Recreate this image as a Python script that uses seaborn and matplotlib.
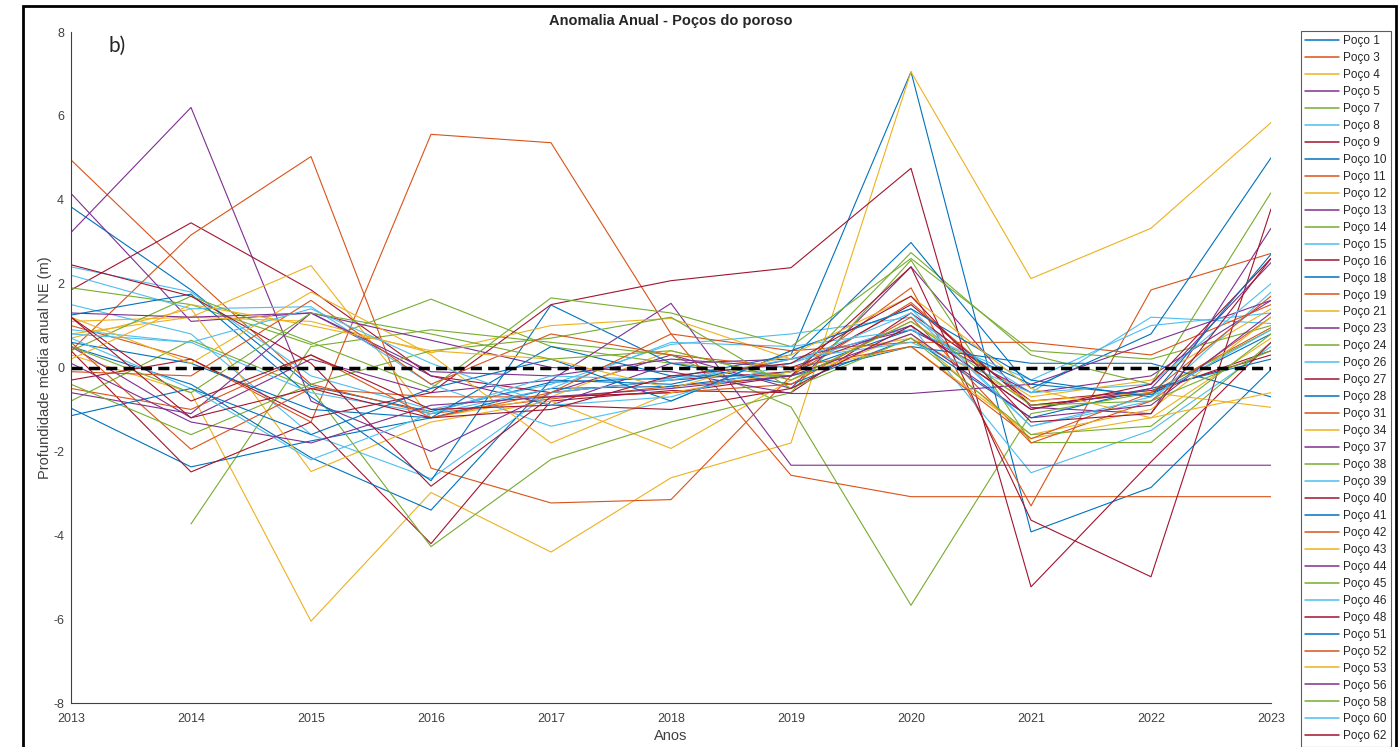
import numpy as np
import pandas as pd
import matplotlib
matplotlib.use("Agg")
import matplotlib.pyplot as plt
from matplotlib.patches import Rectangle
import seaborn as sns

sns.set_style("white")
plt.rcParams['font.family'] = ['Liberation Sans', 'DejaVu Sans']
plt.rcParams['axes.unicode_minus'] = False

years = list(range(2013, 2024))

# anomalia anual por poço (m), 2013..2023
p01 = [3.83, 1.85, -0.45, -1.05, -0.35, -0.25, 0.30, 7.05, -3.92, -2.86, -0.05]
p03 = [4.95, 2.20, -0.40, -1.10, -0.75, -0.45, -0.20, 1.55, -0.90, -0.60, 0.95]
p04 = [0.30, -0.60, -6.05, -2.98, -4.40, -2.63, -1.80, 7.05, 2.12, 3.32, 5.84]
p05 = [3.22, 6.20, -0.80, -2.00, -0.60, 0.30, -0.50, 2.40, -0.95, -1.10, 3.32]
p07 = [np.nan, -3.73, 0.50, 0.90, 0.60, 0.30, -0.94, -5.67, -1.10, -0.60, 0.90]
p08 = [2.40, 1.80, -0.20, -1.00, -0.40, 0.55, 0.80, 1.20, -0.60, 1.20, 1.05]
p09 = [1.85, 3.45, 1.85, -0.20, -0.60, -0.30, -0.10, 1.50, -0.90, -0.60, 0.40]
p10 = [-0.97, -2.37, -1.75, -1.20, -0.50, -0.45, -0.10, 0.90, -0.40, -0.65, 0.80]
p11 = [0.40, 3.16, 5.03, -2.40, -3.23, -3.15, -0.20, 1.90, -3.30, 1.85, 2.72]
p12 = [1.10, 1.20, 2.43, -1.20, -0.70, 0.40, -0.30, 1.10, -0.70, -0.30, 1.40]
p13 = [4.15, 1.10, 1.30, -0.20, -0.90, 0.10, 0.20, 0.90, -0.60, -0.20, 1.60]
p14 = [1.90, 1.50, 0.55, 1.63, 0.50, 0.10, -0.20, 2.74, 0.30, -0.40, 4.17]
p15 = [1.50, 0.80, -1.60, -2.65, -0.60, -0.30, 0.10, 1.00, -2.51, -1.50, 0.50]
p16 = [0.40, -2.49, -1.30, -4.20, -0.80, -0.55, -0.60, 1.30, -0.80, -0.55, 0.30]
p18 = [0.50, -0.40, -2.15, -3.40, -0.30, -0.40, 0.20, 2.98, -0.50, 0.80, 5.00]
p19 = [1.00, 0.20, -1.30, 5.56, 5.36, 0.80, -2.57, -3.08, -3.08, -3.08, -3.08]
p21 = [0.70, 1.40, -2.48, -1.30, -0.80, -1.93, -0.30, 0.80, -1.69, -1.20, 0.70]
p23 = [0.50, -1.20, 0.20, -0.60, -0.30, 1.53, -2.33, -2.33, -2.33, -2.33, -2.33]
p24 = [-0.80, 0.65, -0.50, -4.27, -2.19, -1.30, -0.60, 2.56, -1.79, -1.79, 0.60]
p26 = [2.20, 1.40, 1.45, -0.40, -1.40, -0.80, 0.40, 1.40, -1.40, -0.80, 1.80]
p27 = [-0.30, 0.20, -1.20, -0.60, 1.50, 2.07, 2.38, 4.75, -5.23, -2.25, 0.60]
p28 = [1.25, 1.75, -0.70, -2.70, 1.49, 0.10, -0.40, 0.70, -1.20, -0.50, 0.20]
p31 = [0.60, -1.95, -0.50, -0.70, -0.70, -0.60, -0.40, 1.20, -1.80, -0.80, 1.20]
p34 = [0.80, 1.20, 1.10, 0.35, 1.00, 1.17, 0.20, 0.70, -0.80, -0.60, -0.95]
p37 = [-0.60, -1.10, 1.30, 0.65, 0.00, -0.10, -0.62, -0.62, -0.40, 0.60, 1.60]
p38 = [0.40, 1.70, 0.60, -0.50, 1.66, 1.30, 0.50, 2.60, 0.40, 0.20, 1.00]
p39 = [0.90, 0.60, -0.60, -1.10, -0.50, 0.60, 0.50, 0.90, -0.30, 1.00, 1.30]
p40 = [2.45, 1.70, 0.10, -2.83, -0.70, -0.60, -0.20, 2.40, -3.64, -4.99, 3.78]
p41 = [0.60, 0.10, -1.00, -1.20, 0.50, -0.20, -0.20, 0.50, 0.10, 0.10, -0.70]
p42 = [-0.50, -1.00, 0.30, -1.20, -0.60, 0.80, 0.40, 0.60, 0.60, 0.30, 1.50]
p43 = [1.20, 0.10, 1.80, 0.30, -1.80, -0.60, -0.10, 0.50, -1.60, -1.00, 1.20]
p44 = [1.30, 1.20, 1.30, -0.10, -0.20, 0.20, 0.00, 1.00, -1.00, -0.50, 2.50]
p45 = [-0.40, -1.60, -0.40, 0.40, 0.70, 1.20, -0.50, 0.70, -1.60, -1.40, 0.80]
p46 = [0.70, -0.50, -2.20, -1.10, -0.20, -0.30, 0.20, 0.60, -0.60, -0.40, 2.00]
p48 = [1.20, -0.80, 0.30, -1.00, -0.90, -1.00, -0.50, 1.00, -1.00, -0.40, 2.60]
p51 = [-1.15, -0.50, -1.60, -0.50, 0.20, -0.80, 0.40, 1.40, -0.30, -0.70, 2.70]
p52 = [-0.10, -0.20, 1.60, -0.40, 0.80, 0.30, 0.00, 0.50, -1.70, -0.60, 1.70]
p53 = [0.20, 1.50, 1.00, 0.40, 0.20, -0.50, 0.30, 1.70, -0.50, -1.20, -0.60]
p56 = [0.10, -1.30, -1.80, -0.90, -0.70, -0.50, -0.20, 0.80, -1.20, -0.90, 1.30]
p58 = [0.50, -0.60, 1.30, 0.80, 0.20, 0.40, -0.30, 1.10, -0.90, -0.80, 0.40]
p60 = [0.80, 0.60, 1.40, 0.10, -0.90, -0.70, 0.10, 1.30, -1.40, -0.70, 0.90]
p62 = [1.20, -1.20, -0.50, -1.20, -1.00, -0.20, 0.10, 1.70, -1.30, -1.10, 2.60]

well_ids = [1, 3, 4, 5, 7, 8, 9, 10, 11, 12, 13, 14, 15, 16, 18, 19, 21, 23, 24, 26,
            27, 28, 31, 34, 37, 38, 39, 40, 41, 42, 43, 44, 45, 46, 48, 51, 52, 53,
            56, 58, 60, 62]
series = [p01, p03, p04, p05, p07, p08, p09, p10, p11, p12, p13, p14, p15, p16, p18,
          p19, p21, p23, p24, p26, p27, p28, p31, p34, p37, p38, p39, p40, p41, p42,
          p43, p44, p45, p46, p48, p51, p52, p53, p56, p58, p60, p62]
wells = [f"Poço {i}" for i in well_ids]

# matlab default color order
matlab_colors = ['#0072BD', '#D95319', '#EDB120', '#7E2F8E', '#77AC30', '#4DBEEE', '#A2142F']
palette = [matlab_colors[i % 7] for i in range(len(wells))]

rows = []
for name, vals in zip(wells, series):
    for yr, v in zip(years, vals):
        rows.append({"Ano": yr, "Anomalia": v, "Poço": name})
df = pd.DataFrame(rows).dropna()

fig = plt.figure(figsize=(13.98, 7.47), dpi=100)
ax = fig.add_axes([71/1398, 44/747, 1200/1398, 671/747])

sns.lineplot(data=df, x="Ano", y="Anomalia", hue="Poço", hue_order=wells,
             palette=palette, linewidth=0.8, estimator=None, sort=False, ax=ax)

ax.plot([years[0], years[-1]], [0, 0], color='black', lw=2.5, ls='--', dashes=(3.2, 1.8))

ax.set_xlim(2013, 2023)
ax.set_ylim(-8, 8)
ax.set_xticks(years)
ax.set_yticks(range(-8, 9, 2))

gray = '#404040'
for s in ['top', 'right']:
    ax.spines[s].set_visible(False)
for s in ['left', 'bottom']:
    ax.spines[s].set_color(gray)
    ax.spines[s].set_linewidth(0.8)
ax.tick_params(direction='in', length=7, width=0.8, colors=gray, labelsize=9)
ax.tick_params(axis='x', pad=7)
ax.tick_params(axis='y', pad=5)

ax.set_title("Anomalia Anual - Poços do poroso", fontweight='bold', fontsize=10.5, pad=5)
ax.set_xlabel("Anos", fontsize=10.5, color=gray, labelpad=3)
ax.set_ylabel("Profundidade média anual NE (m)", fontsize=10.5, color=gray, labelpad=1)

handles, labels = ax.get_legend_handles_labels()
leg = ax.legend(handles, labels, loc='upper left', bbox_to_anchor=(1301/1398, 1 - 31/747),
                bbox_transform=fig.transFigure, fontsize=8.5, frameon=True, fancybox=False,
                edgecolor='#333333', labelspacing=0.42, handlelength=2.9,
                handletextpad=0.3, borderpad=0.35, borderaxespad=0)
leg.get_frame().set_linewidth(0.8)
for line in leg.get_lines():
    line.set_linewidth(1.1)

fig.text(108/1398, 1 - 46/747, "b)", fontsize=15, va='center', family=['Lato', 'DejaVu Sans'])

fig.patches.append(Rectangle((23/1398, -0.05), (1396 - 23)/1398, 1.05 - 6/747,
                             transform=fig.transFigure, fill=False, lw=2, ec='black'))

fig.savefig("out.png", dpi=100)
